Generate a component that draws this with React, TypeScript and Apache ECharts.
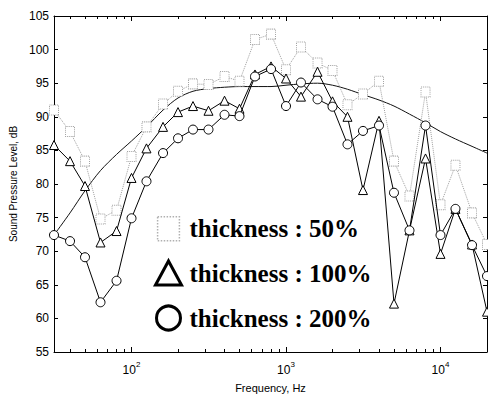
import React, { useEffect, useRef } from "react";
import * as echarts from "echarts";

const freqs = [31.5, 40, 50, 63, 80, 100, 125, 160, 200, 250, 315, 400, 500, 630, 800, 1000, 1250, 1600, 2000, 2500, 3150, 4000, 5000, 6300, 8000, 10000, 12500, 16000, 20000];
const thick50 = [91, 87.8, 83.4, 74.8, 76.1, 84.1, 88.5, 91.9, 93.8, 94.9, 94.8, 96, 95.3, 101.5, 102.3, 97, 100.4, 98, 96.9, 91.8, 93.4, 95.3, 83.4, 78.2, 93.7, 76.9, 82.8, 75.7, 71];
const thick100 = [85.8, 83.4, 79.7, 71.3, 73, 80.9, 85.3, 88.5, 90.7, 91.6, 90.9, 92.4, 91.2, 96.3, 97.5, 95.7, 93.0, 96.7, 92.3, 90.0, 79.1, 89.4, 62.2, 73.1, 83.8, 69.6, 76.3, 71.0, 61.0];
const thick200 = [72.4, 71.5, 69.1, 62.4, 65.6, 74.9, 80.4, 84.6, 86.8, 88.1, 88.1, 90.3, 90.1, 96.0, 97.1, 91.6, 95.1, 92.6, 91.5, 85.9, 87.9, 88.7, 78.7, 73.1, 88.7, 72.4, 76.3, 70.9, 66.3];
const fitCurve = [72.4, 75.7, 79.0, 82.0, 84.4, 86.4, 88.5, 91.0, 92.8, 93.8, 94.2, 94.4, 94.5, 94.5, 94.5, 94.7, 94.9, 95.0, 94.7, 94.1, 93.3, 92.5, 91.6, 90.4, 89.1, 87.8, 86.7, 85.6, 84.6];
const seriesNames = ["thickness : 50%", "thickness : 100%", "thickness : 200%"];
const majorFreqTicks = [100, 1000, 10000];
const minorFreqTicks = [40, 50, 60, 70, 80, 90, 200, 300, 400, 500, 600, 700, 800, 900, 2000, 3000, 4000, 5000, 6000, 7000, 8000, 9000];
const yMin = 55;
const yMax = 105;
const yStep = 5;
const xMin = 31.5;
const xMax = 20000;

const pairs = (ys: number[]) => freqs.map((f, i) => [f, ys[i]]);

export default function App() {
  const ref = useRef<HTMLDivElement>(null);
  useEffect(() => {
    if (!ref.current) return;
    const chart = echarts.init(ref.current, null, { renderer: "svg" });
    const sans = "Liberation Sans";
    const axisLine = { show: true, lineStyle: { color: "#000", width: 1 } };
    const xBase = (position: string, ticks: number[], len: number, showLine: boolean, labels: boolean) => ({
      type: "log",
      logBase: 10,
      min: xMin,
      max: xMax,
      position,
      axisLine: { ...axisLine, show: showLine },
      splitLine: { show: false },
      axisTick: { show: true, inside: true, length: len, customValues: ticks, lineStyle: { color: "#000" } },
      axisLabel: labels
        ? {
            show: true,
            customValues: majorFreqTicks,
            margin: 8,
            color: "#000",
            fontFamily: sans,
            formatter: (v: number) => "{b|10}{s|" + Math.round(Math.log10(v)) + "}",
            rich: {
              b: { fontSize: 12, fontFamily: sans, color: "#000", lineHeight: 16, verticalAlign: "bottom" },
              s: { fontSize: 8, fontFamily: sans, color: "#000", verticalAlign: "top", lineHeight: 16 },
            },
          }
        : { show: false },
    });
    chart.setOption({
      animation: false,
      backgroundColor: "#fff",
      grid: { left: 54, right: 1, top: 16, bottom: 42 },
      legend: {
        orient: "vertical",
        left: 154,
        top: 216,
        padding: 0,
        itemWidth: 26,
        itemHeight: 24,
        itemGap: 18,
        textStyle: { fontFamily: "Liberation Serif", fontWeight: "bold", fontSize: 25, color: "#000", padding: [0, 0, 0, 3] },
        data: [
          { name: seriesNames[0], icon: "path://M0,0L20,0L20,22L0,22Z", itemStyle: { color: "#fff", borderColor: "#b0b0b0", borderWidth: 1.5, borderType: "dotted" } },
          { name: seriesNames[1], icon: "triangle", itemStyle: { color: "#fff", borderColor: "#000", borderWidth: 3 } },
          { name: seriesNames[2], icon: "circle", itemStyle: { color: "#fff", borderColor: "#000", borderWidth: 3 } },
        ],
      },
      xAxis: [
        {
          ...xBase("bottom", majorFreqTicks, 5, true, true),
          name: "Frequency, Hz",
          nameLocation: "middle",
          nameGap: 30,
          nameTextStyle: { fontFamily: sans, fontSize: 11, color: "#000" },
        },
        xBase("bottom", minorFreqTicks, 3, false, false),
        xBase("top", majorFreqTicks, 5, true, false),
        xBase("top", minorFreqTicks, 3, false, false),
      ],
      yAxis: [
        {
          type: "value",
          min: yMin,
          max: yMax,
          interval: yStep,
          position: "left",
          axisLine,
          splitLine: { show: false },
          axisTick: { show: true, inside: true, length: 4, lineStyle: { color: "#000" } },
          axisLabel: { color: "#000", fontFamily: sans, fontSize: 12, margin: 5 },
          name: "Sound Pressure Level, dB",
          nameLocation: "middle",
          nameGap: 32,
          nameTextStyle: { fontFamily: sans, fontSize: 10, color: "#000" },
        },
        {
          type: "value",
          min: yMin,
          max: yMax,
          interval: yStep,
          position: "right",
          axisLine,
          splitLine: { show: false },
          axisTick: { show: true, inside: true, length: 4, lineStyle: { color: "#000" } },
          axisLabel: { show: false },
        },
      ],
      series: [
        {
          name: "fit",
          type: "line",
          smooth: 0.3,
          data: pairs(fitCurve),
          showSymbol: false,
          symbol: "none",
          lineStyle: { color: "#111", width: 1 },
          z: 1,
        },
        {
          name: seriesNames[0],
          type: "line",
          data: pairs(thick50),
          symbol: "rect",
          symbolSize: [9, 10],
          lineStyle: { color: "#a0a0a0", width: 1, type: "dotted" },
          itemStyle: { color: "#fff", borderColor: "#a0a0a0", borderWidth: 1, borderType: "dotted" },
          z: 2,
        },
        {
          name: seriesNames[1],
          type: "line",
          data: pairs(thick100),
          symbol: "triangle",
          symbolSize: 9,
          lineStyle: { color: "#000", width: 1 },
          itemStyle: { color: "#fff", borderColor: "#000", borderWidth: 1 },
          z: 3,
        },
        {
          name: seriesNames[2],
          type: "line",
          data: pairs(thick200),
          symbol: "circle",
          symbolSize: 9,
          lineStyle: { color: "#000", width: 1 },
          itemStyle: { color: "#fff", borderColor: "#000", borderWidth: 1 },
          z: 4,
        },
      ],
    });
    return () => chart.dispose();
  }, []);
  return <div ref={ref} style={{ width: 488, height: 398, position: "absolute", left: 0, top: 0 }} />;
}
